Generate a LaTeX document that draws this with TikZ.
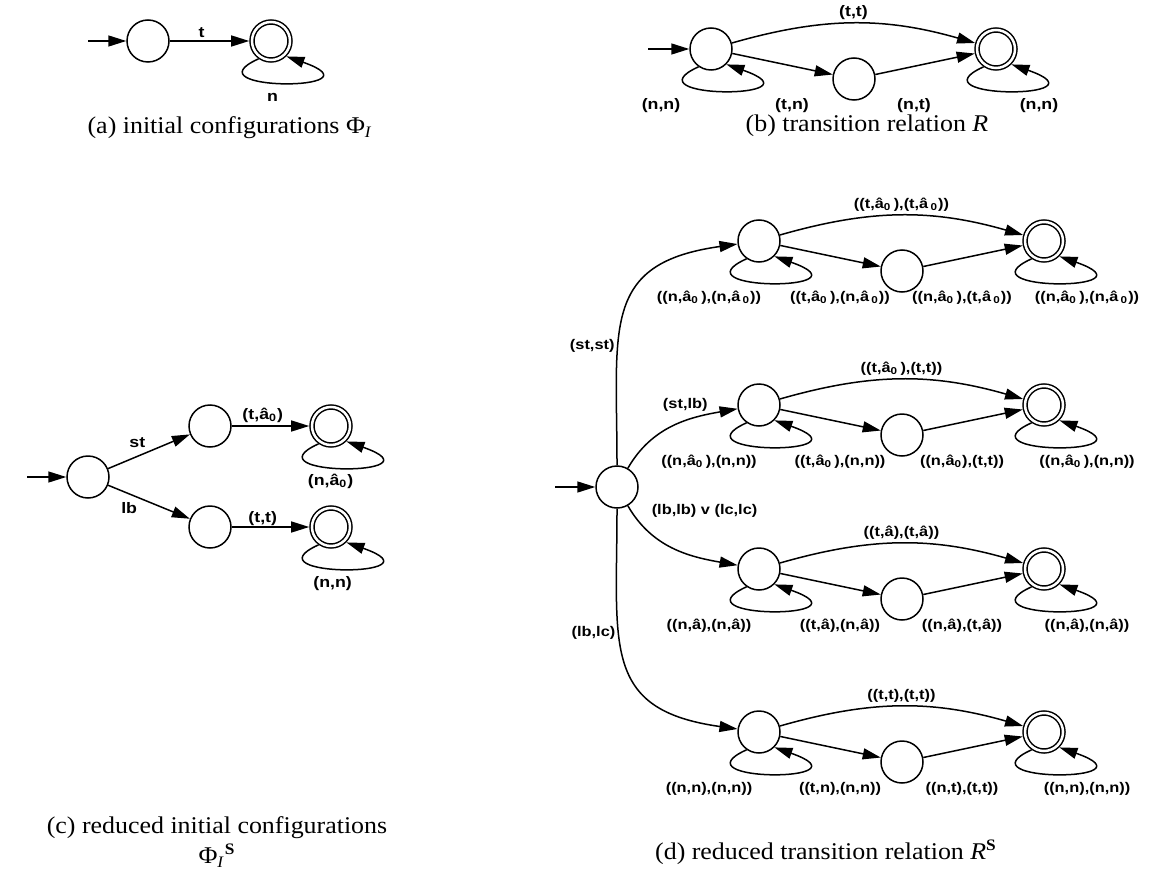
\documentclass[tikz,border=0pt]{standalone}
\usepackage{fontspec}
\setmainfont{Liberation Serif}[FakeStretch=1.08]
\newfontfamily\lblfont{Liberation Sans}[FakeStretch=1.17]
\usepackage{tikz}
\usetikzlibrary{arrows.meta,positioning,calc}

% one row of the reduced transition relation
\newcommand{\relrow}[8]{%
\node[state] (#1a) at (#2,#3) {};
\node[state] (#1b) at (#2+143,#3+30) {};
\node[accept] (#1c) at (#2+285,#3) {};
\draw[->] (#1a) to[bend left=16] node[lbl,above] {#4} (#1c);
\draw[->] (#1a)--(#1b);\draw[->] (#1b)--(#1c);
\draw[->] (#1a.235) to[selfloop] (#1a.-45);
\draw[->] (#1c.235) to[selfloop] (#1c.-45);
\node[lbl] (#1l1) at ($(#1a)+(-50,57)$) {#5};
\node[lbl] (#1l2) at ($(#1a)+(81,57)$) {#6};
\node[lbl] (#1l3) at ($(#1a)+(203,57)$) {#7};
\node[lbl] (#1l4) at ($(#1a)+(328,57)$) {#8};
}

\begin{document}
\begin{tikzpicture}[x=0.5pt,y=-0.5pt,>={Triangle[length=9pt,width=5.5pt]},line width=0.75pt]
\tikzstyle{state}=[circle,draw=black,minimum size=21pt,inner sep=0pt]
\tikzstyle{accept}=[circle,draw=black,double,double distance=1.25pt,minimum size=19pt,inner sep=0pt,outer sep=1.4pt]
\tikzstyle{lbl}=[font=\lblfont\bfseries\fontsize{7}{8.5}\selectfont,inner sep=1.5pt]
\tikzstyle{lblbig}=[font=\lblfont\bfseries\fontsize{7.6}{9}\selectfont,inner sep=1.5pt]
\tikzstyle{capt}=[font=\fontsize{12}{15}\selectfont,align=center]
\tikzstyle{selfloop}=[to path={.. controls +(-73,33) and +(100,35) .. (\tikztotarget) \tikztonodes}]
\useasboundingbox (0,0) rectangle (1149,882);

% (a) initial configurations
\coordinate (ain) at (88,41);
\node[state] (a0) at (148,41) {};
\node[accept] (a1) at (271,41) {};
\draw[->] (ain)--(a0);
\draw[->] (a0)-- node[lblbig,pos=0.4,above] {t} (a1);
\draw[->] (a1.235) to[selfloop] node[lblbig,below=3pt,xshift=-5pt] {n} (a1.-45);
\node[capt] (capa) at (230,128) {(a) initial configurations Φ\textsubscript{\textit{I}}};

% (b) transition relation
\begin{scope}[lbl/.style={lblbig}]
\coordinate (bin) at (648,49);
\relrow{b}{711}{49}{(t,t)}{(n,n)}{(t,n)}{(n,t)}{(n,n)}
\draw[->] (bin)--(ba);
\end{scope}
\node[capt] (capb) at (867,126) {(b) transition relation \textit{R}};

% (c) reduced initial configurations
\coordinate (cin) at (27,477);
\node[state] (c0) at (88,477) {};
\node[state] (c1) at (210,426) {};
\node[state] (c2) at (210,527) {};
\node[accept] (c3) at (331,426) {};
\node[accept] (c4) at (331,527) {};
\draw[->] (cin)--(c0);
\draw[->] (c0)-- node[lblbig,above left] {st} (c1);
\draw[->] (c0)-- node[lblbig,pos=0.4,below left] {lb} (c2);
\draw[->] (c1)-- node[lblbig,pos=0.4,above] {(t,â\textsubscript{0})} (c3);
\draw[->] (c2)-- node[lblbig,pos=0.4,above,yshift=-1pt] {(t,t)} (c4);
\draw[->] (c3.235) to[selfloop] node[lblbig,below=1pt,xshift=-6pt] {(n,â\textsubscript{0})} (c3.-45);
\draw[->] (c4.235) to[selfloop] node[lblbig,below=2pt,xshift=-5pt] {(n,n)} (c4.-45);
\node[capt] (capc) at (217,842) {(c) reduced initial configurations\\Φ\textsubscript{\textit{I}}\textsuperscript{\textbf{S}}};

% (d) reduced transition relation
\coordinate (din) at (555,487);
\node[state] (d0) at (617,487) {};
\draw[->] (din)--(d0);
\relrow{ra}{759}{241}{((t,â\textsubscript{0}\,),(t,â\,\textsubscript{0}))}{((n,â\textsubscript{0}\,),(n,â\,\textsubscript{0}))}{((t,â\textsubscript{0}\,),(n,â\,\textsubscript{0}))}{((n,â\textsubscript{0}\,),(t,â\,\textsubscript{0}))}{((n,â\textsubscript{0}\,),(n,â\,\textsubscript{0}))}
\relrow{rb}{759}{405}{((t,â\textsubscript{0}\,),(t,t))}{((n,â\textsubscript{0}\,),(n,n))}{((t,â\textsubscript{0}\,),(n,n))}{((n,â\textsubscript{0}),(t,t))}{((n,â\textsubscript{0}\,),(n,n))}
\relrow{rc}{759}{569}{((t,â),(t,â))}{((n,â),(n,â))}{((t,â),(n,â))}{((n,â),(t,â))}{((n,â),(n,â))}
\relrow{rd}{759}{732}{((t,t),(t,t))}{((n,n),(n,n))}{((t,n),(n,n))}{((n,t),(t,t))}{((n,n),(n,n))}
\draw[->] (d0) to[out=90,in=188,looseness=1.4] node[lbl,pos=0.35,left] {(st,st)} (raa);
\draw[->] (d0.60) to[out=60,in=190] node[lbl,pos=0.6,above=3pt] {(st,lb)} (rba);
\draw[->] (d0.-60) to[out=-60,in=170] node[lbl,pos=0.2,above right,xshift=2pt,yshift=3pt] {(lb,lb) v (lc,lc)} (rca);
\draw[->] (d0) to[out=-90,in=172,looseness=1.4] node[lbl,pos=0.37,left] {(lb,lc)} (rda);
\node[capt] (capd) at (826,852) {(d) reduced transition relation \textit{R}\textsuperscript{\textbf{S}}};
\end{tikzpicture}
\end{document}
